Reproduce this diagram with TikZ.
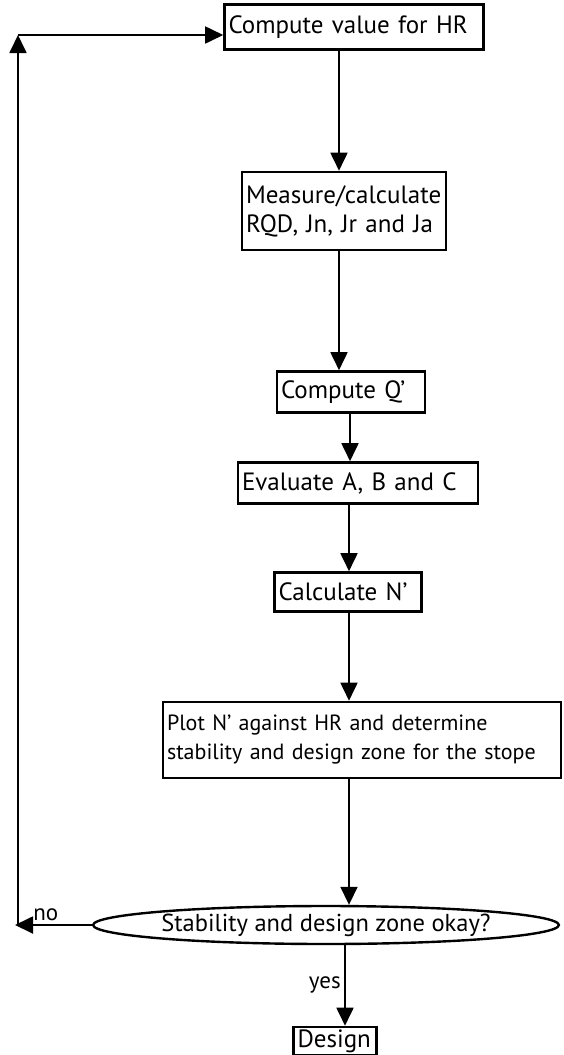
\documentclass[tikz,border=0pt]{standalone}
\usepackage{fontspec}
\setmainfont{PT Sans}
\usetikzlibrary{arrows.meta, positioning, shapes.geometric}

\begin{document}
\begin{tikzpicture}[
  x=1pt, y=-1pt,
  stepbox/.style={draw, line width=2.6pt, inner xsep=4pt, inner ysep=2pt, align=left, font=\fontsize{25}{29}\selectfont},
  decision/.style={draw, ellipse, line width=2.4pt, inner sep=0pt, font=\fontsize{24.5}{28}\selectfont},
  arr/.style={-{Triangle[length=18pt,width=17pt]}, line width=1.8pt},
  lbl/.style={font=\fontsize{23}{26}\selectfont}
]
  \useasboundingbox (0,0) rectangle (564,1055);

  \node[stepbox, text width=251pt, minimum height=45pt] (hr) at (354,27) {Compute value for HR};
  \node[stepbox, text width=196pt, minimum height=78pt] (meas) at (344,211) {Measure/calculate\\RQD, Jn, Jr and Ja};
  \node[stepbox, text width=140pt, minimum height=41pt] (qp) at (351,392) {Compute Q’};
  \node[stepbox, text width=232pt, minimum height=41pt] (abc) at (358,483) {Evaluate A, B and C};
  \node[stepbox, text width=139pt, minimum height=39pt] (np) at (348,592) {Calculate N’};
  \node[stepbox, text width=390pt, minimum height=76pt, font=\fontsize{22}{29}\selectfont] (plot) at (362,740) {Plot N’ against HR and determine\\stability and design zone for the stope};
  \node[decision, minimum width=452pt, minimum height=38pt] (ok) at (326,925) {Stability and design zone okay?};
  \node[stepbox, text width=75pt, minimum height=28pt] (design) at (335,1041) {Design};

  \coordinate (corner) at (15,925);
  \coordinate (loop) at (18,35);

  \draw[arr] ([xshift=-15pt]hr.south) -- ([xshift=-5pt]meas.north);
  \draw[arr] ([xshift=-5pt]meas.south) -- ([xshift=-12pt]qp.north);
  \draw[arr] ([xshift=-1pt]qp.south) -- ([xshift=-8pt]abc.north);
  \draw[arr] ([xshift=-9pt]abc.south) -- ([xshift=1pt]np.north);
  \draw[arr] ([xshift=1pt]np.south) -- ([xshift=-13pt]plot.north);
  \draw[arr] ([xshift=-13pt]plot.south) -- ([xshift=23pt]ok.north);
  \draw[arr] ([xshift=19pt]ok.south) -- node[lbl, left] (yes) {yes} ([xshift=10pt]design.north);

  % feedback loop
  \draw[arr] (ok.west) -- node[lbl, above, pos=0.6] (no) {no} (corner);
  \draw[arr] (loop |- corner) -- (loop);
  \draw[arr] (loop) -- (loop -| hr.west);
\end{tikzpicture}
\end{document}
